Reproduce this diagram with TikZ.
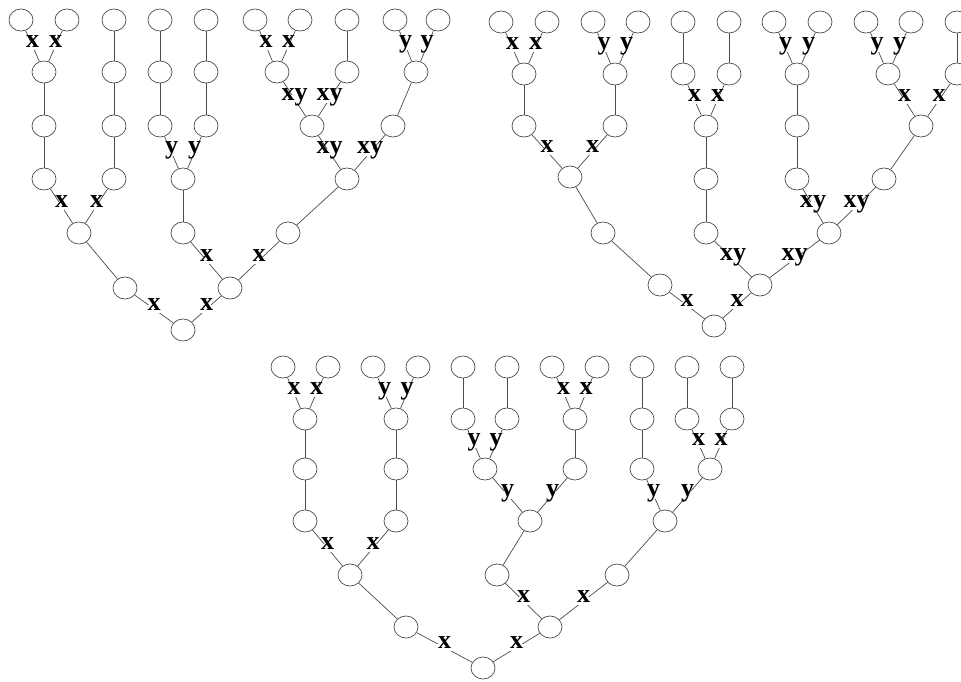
\documentclass[tikz,border=0pt]{standalone}
\usepackage{fontspec}
\setmainfont{Liberation Serif}
\usetikzlibrary{shapes.geometric}

\tikzset{
  vtx/.style={ellipse,draw=black!70,line width=0.7pt,minimum width=24pt,minimum height=22pt,inner sep=0pt},
  lbl/.style={fill=white,inner sep=0.6pt,text height=0.46em,text depth=0.2em,font=\fontsize{26}{26}\selectfont\bfseries},
  tie/.style={draw=black!70,line width=0.7pt}
}

\begin{document}
\begin{tikzpicture}[x=1pt,y=-1pt]
  \clip (0,0) rectangle (961,682);
  \fill[white] (0,0) rectangle (961,682);
  % left tree
  \foreach \n/\px/\py in {t1a/21/20,t1b/67/20,t1c/114/20,t1d/160/20,t1e/206/20,t1f/255/20,t1g/300/20,t1h/347/20,t1i/395/20,t1j/438/20,
      t1ab/44/72,t1c2/114/72,t1d2/160/72,t1e2/206/72,t1fg/277/72,t1h2/347/72,t1ij/416/72,
      t1ab3/44/126,t1c3/114/126,t1d3/160/126,t1e3/206/126,t1fh/312/126,t1ij3/393/126,
      t1ab4/44/179,t1c4/114/179,t1de/183/179,t1fj/347/179,
      t1ac/79/233,t1de5/183/233,t1fj5/288/233,
      t1ac6/125/288,t1dj/230/288,t1r/183/330}
    \node[vtx] (\n) at (\px,\py) {};
  % right tree
  \foreach \n/\px/\py in {t2a/501/22,t2b/547/22,t2c/593/22,t2d/638/22,t2e/683/22,t2f/729/22,t2g/774/22,t2h/820/22,t2i/866/22,t2j/911/22,t2k/957/22,
      t2ab/524/74,t2cd/615/74,t2e2/683/74,t2f2/729/74,t2gh/797/74,t2ij/888/74,t2k2/957/74,
      t2ab3/524/126,t2cd3/615/126,t2ef/706/126,t2gh3/797/126,t2ik/921/126,
      t2ad/570/177,t2ef4/706/179,t2gh4/797/179,t2ik4/884/179,
      t2ad5/603/233,t2ef5/706/233,t2gk/829/233,
      t2ad6/660/285,t2ek/760/285,t2r/714/326}
    \node[vtx] (\n) at (\px,\py) {};
  % bottom tree
  \foreach \n/\px/\py in {t3a/283/367,t3b/328/367,t3c/373/367,t3d/418/367,t3e/463/367,t3f/507/367,t3g/552/367,t3h/597/367,t3i/642/367,t3j/687/367,t3k/732/367,
      t3ab/305/419,t3cd/396/419,t3e2/463/419,t3f2/507/419,t3gh/575/419,t3i2/642/419,t3j2/687/419,t3k2/732/419,
      t3ab3/305/469,t3cd3/396/469,t3ef/485/469,t3gh3/575/469,t3i3/642/469,t3jk/710/469,
      t3ab4/305/521,t3cd4/396/521,t3eh/530/521,t3ik/665/521,
      t3ad/350/575,t3eh5/497/575,t3ik5/617/575,
      t3ad6/406/627,t3ek/550/627,t3r/483/668}
    \node[vtx] (\n) at (\px,\py) {};

  % plain edges
  \foreach \a/\b in {t1ab/t1ab3,t1ab3/t1ab4,t1c/t1c2,t1c2/t1c3,t1c3/t1c4,t1ac/t1ac6,t1d/t1d2,t1d2/t1d3,t1e/t1e2,t1e2/t1e3,
      t1de/t1de5,t1h/t1h2,t1ij/t1ij3,t1fj/t1fj5,
      t2ab/t2ab3,t2cd/t2cd3,t2ad/t2ad5,t2ad5/t2ad6,t2e/t2e2,t2f/t2f2,t2ef/t2ef4,t2ef4/t2ef5,t2gh/t2gh3,t2gh3/t2gh4,t2k/t2k2,t2ik/t2ik4,
      t3ab/t3ab3,t3ab3/t3ab4,t3cd/t3cd3,t3cd3/t3cd4,t3ad/t3ad6,t3e/t3e2,t3f/t3f2,t3gh/t3gh3,t3eh/t3eh5,t3i/t3i2,t3i2/t3i3,t3j/t3j2,t3k/t3k2,t3ik/t3ik5}
    \draw[tie] (\a) -- (\b);

  % labelled edges
  \foreach \a/\b/\l in {t1a/t1ab/x,t1b/t1ab/x,t1ab4/t1ac/x,t1c4/t1ac/x,t1d3/t1de/y,t1e3/t1de/y,t1f/t1fg/x,t1g/t1fg/x,
      t1fg/t1fh/xy,t1h2/t1fh/xy,t1i/t1ij/y,t1j/t1ij/y,t1fh/t1fj/xy,t1ij3/t1fj/xy,t1de5/t1dj/x,t1fj5/t1dj/x,t1ac6/t1r/x,t1dj/t1r/x,
      t2a/t2ab/x,t2b/t2ab/x,t2c/t2cd/y,t2d/t2cd/y,t2ab3/t2ad/x,t2cd3/t2ad/x,t2e2/t2ef/x,t2f2/t2ef/x,t2g/t2gh/y,t2h/t2gh/y,
      t2i/t2ij/y,t2j/t2ij/y,t2ij/t2ik/x,t2k2/t2ik/x,t2gh4/t2gk/xy,t2ik4/t2gk/xy,t2ef5/t2ek/xy,t2gk/t2ek/xy,t2ad6/t2r/x,t2ek/t2r/x,
      t3a/t3ab/x,t3b/t3ab/x,t3c/t3cd/y,t3d/t3cd/y,t3ab4/t3ad/x,t3cd4/t3ad/x,t3e2/t3ef/y,t3f2/t3ef/y,t3g/t3gh/x,t3h/t3gh/x,
      t3ef/t3eh/y,t3gh3/t3eh/y,t3j2/t3jk/x,t3k2/t3jk/x,t3i3/t3ik/y,t3jk/t3ik/y,t3eh5/t3ek/x,t3ik5/t3ek/x,t3ad6/t3r/x,t3ek/t3r/x}
    \draw[tie] (\a) -- node[lbl] {\l} (\b);
\end{tikzpicture}
\end{document}
